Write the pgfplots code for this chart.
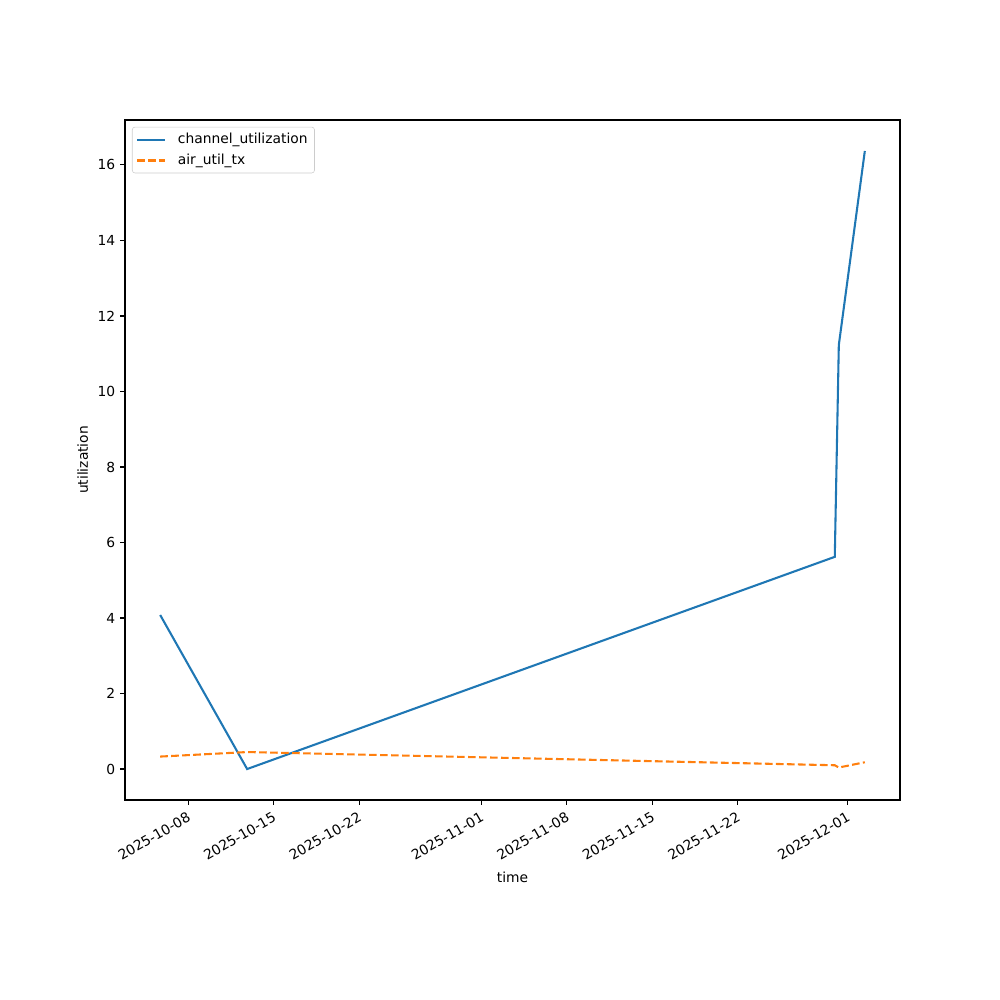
\documentclass[border=0pt]{standalone}
\usepackage{fontspec}
\setmainfont{DejaVu Sans}
\usepackage{pgfplots}
\pgfplotsset{compat=1.18}
\definecolor{mplblue}{HTML}{1F77B4}
\definecolor{mplorange}{HTML}{FF7F0E}

% days counted from 2025-10-01
\begin{document}
\begin{tikzpicture}
\path[use as bounding box] (0,0) rectangle (10in,10in);
\begin{axis}[
    at={(1.25in,2in)}, anchor=south west,
    scale only axis,
    width=7.75in, height=6.8in,
    xmin=1.83, xmax=65.28,
    ymin=-0.82, ymax=17.19,
    xtick={7,14,21,31,38,45,52,61},
    xticklabels={2025-10-08,2025-10-15,2025-10-22,2025-11-01,2025-11-08,2025-11-15,2025-11-22,2025-12-01},
    x tick label style={rotate=30, anchor=north east, font=\fontsize{10}{12}\selectfont},
    ytick={0,2,4,6,8,10,12,14,16},
    y tick label style={font=\fontsize{10}{12}\selectfont},
    /pgf/number format/assume math mode=true,
    tick align=outside, tick pos=left,
    major tick length=3.5pt,
    tick style={black, line width=0.8pt},
    axis line style={line width=0.8pt},
    xlabel={time}, ylabel={utilization},
    label style={font=\fontsize{10}{12}\selectfont},
    legend cell align=left,
    legend image code/.code={\draw[#1] (0pt,0pt) -- (20pt,0pt); \path (26.5pt,0pt);},
    legend style={at={(0.009,0.99)}, anchor=north west,
        font=\fontsize{10}{12}\selectfont, draw=black!20, rounded corners=2pt,
        inner xsep=3pt, inner ysep=2.5pt, row sep=2pt},
]
\addplot[mplblue, line width=1.5pt] coordinates {
(4.71,4.08) (11.83,0.0) (59.94,5.62) (60.27,11.23) (62.4,16.37)
};
\addlegendentry{channel\_utilization}
\addplot[mplorange, line width=1.5pt, dash pattern=on 5.55pt off 2.4pt] coordinates {
(4.71,0.33) (11.83,0.45) (59.94,0.10) (60.27,0.04) (62.4,0.18)
};
\addlegendentry{air\_util\_tx}
\end{axis}
\end{tikzpicture}
\end{document}
